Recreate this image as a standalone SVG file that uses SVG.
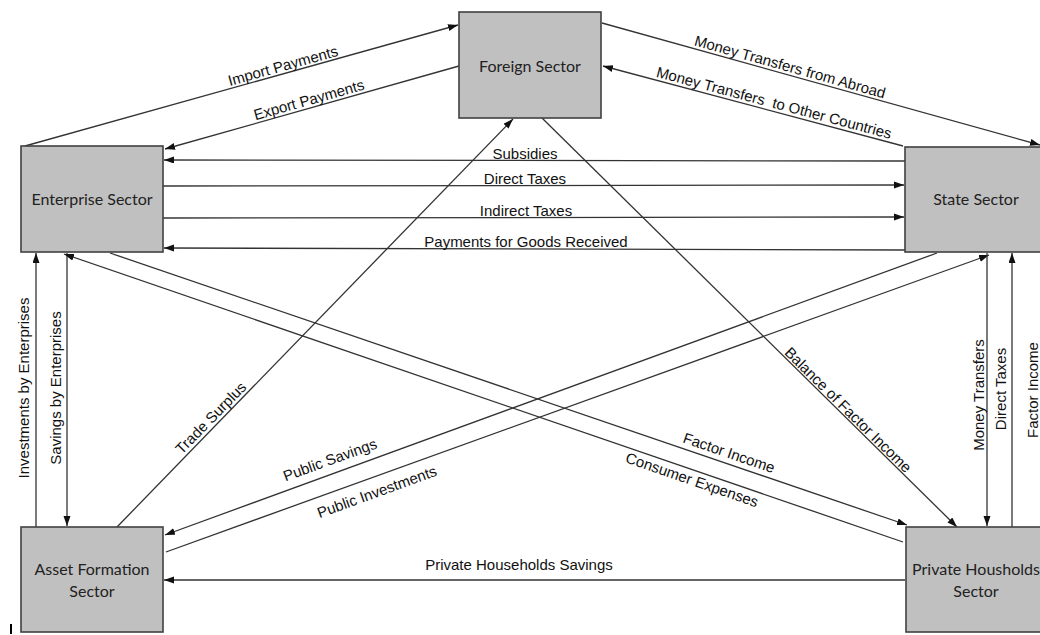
<svg xmlns="http://www.w3.org/2000/svg" width="1040" height="635" viewBox="0 0 1040 635">
<style>
.box{fill:#c0c0c0;stroke:#404040;stroke-width:1.6}
.nl{font-family:Lato,"Liberation Sans",sans-serif;font-size:16px;fill:#222;text-anchor:middle}
.ln{stroke:#333;stroke-width:1.3;fill:none}
.ar{marker-end:url(#ah)}
.el{font-family:"Liberation Sans",Arial,sans-serif;font-size:15px;fill:#111;text-anchor:middle}
</style>
<defs>
<marker id="ah" markerUnits="userSpaceOnUse" markerWidth="11" markerHeight="8" refX="10" refY="3.5" orient="auto">
<path d="M0,0 L10,3.5 L0,7 z" fill="#111"/>
</marker>
</defs>
<rect width="1040" height="635" fill="#fff"/>

<g id="connectors">
<line class="ln ar" x1="25" y1="146" x2="458" y2="25"/>
<line class="ln ar" x1="459" y1="66" x2="165" y2="149"/>
<line class="ln ar" x1="602" y1="23" x2="1040" y2="145"/>
<line class="ln ar" x1="903" y1="146" x2="603" y2="66"/>
<line class="ln ar" x1="905" y1="161" x2="164" y2="160"/>
<line class="ln ar" x1="163" y1="186" x2="904" y2="185"/>
<line class="ln ar" x1="163" y1="218" x2="904" y2="217"/>
<line class="ln ar" x1="905" y1="250" x2="164" y2="248"/>
<line class="ln ar" x1="36" y1="527" x2="36" y2="253"/>
<line class="ln ar" x1="67" y1="253" x2="67" y2="526"/>
<line class="ln ar" x1="117" y1="527" x2="513" y2="119"/>
<line class="ln ar" x1="542" y1="118" x2="957" y2="527"/>
<line class="ln ar" x1="937" y1="253" x2="165" y2="535"/>
<line class="ln ar" x1="166" y1="552" x2="989" y2="255"/>
<line class="ln ar" x1="987" y1="253" x2="987" y2="526"/>
<line class="ln ar" x1="1012" y1="527" x2="1012" y2="253"/>
<line class="ln ar" x1="110" y1="253" x2="907" y2="525"/>
<line class="ln ar" x1="903" y1="542" x2="64" y2="254"/>
<line class="ln ar" x1="905" y1="580" x2="164" y2="580"/>

<text class="el" transform="translate(283,66) rotate(-15.6)" y="5">Import Payments</text>
<text class="el" transform="translate(309,100) rotate(-15.8)" y="5">Export Payments</text>
<text class="el" transform="translate(790,67) rotate(15.6)" y="5">Money Transfers from Abroad</text>
<text class="el" transform="translate(774,103) rotate(14.9)" y="5" xml:space="preserve">Money Transfers  to Other Countries</text>
<text class="el" x="525" y="159">Subsidies</text>
<text class="el" x="525" y="184">Direct Taxes</text>
<text class="el" x="526" y="216">Indirect Taxes</text>
<text class="el" x="526" y="247">Payments for Goods Received</text>
<text class="el" transform="translate(24,388) rotate(-90)" y="5">Investments by Enterprises</text>
<text class="el" transform="translate(56,388) rotate(-90)" y="5">Savings by Enterprises</text>
<text class="el" transform="translate(211,418) rotate(-45.6)" y="5">Trade Surplus</text>
<text class="el" transform="translate(848,410) rotate(44.6)" y="5">Balance of Factor Income</text>
<text class="el" transform="translate(330,460) rotate(-20)" y="5">Public Savings</text>
<text class="el" transform="translate(377,492) rotate(-20)" y="5">Public Investments</text>
<text class="el" transform="translate(729,453) rotate(18.9)" y="5">Factor Income</text>
<text class="el" transform="translate(692,480) rotate(19)" y="5">Consumer Expenses</text>
<text class="el" transform="translate(979,395) rotate(-90)" y="5">Money Transfers</text>
<text class="el" transform="translate(1001,389) rotate(-90)" y="5">Direct Taxes</text>
<text class="el" transform="translate(1033,390) rotate(-90)" y="5">Factor Income</text>
<text class="el" x="519" y="570">Private Households Savings</text>
</g>

<g id="foreign"><rect class="box" x="459" y="12" width="142" height="106"/><text class="nl" x="530" y="72">Foreign Sector</text></g>
<g id="enterprise"><rect class="box" x="21" y="146" width="142" height="106"/><text class="nl" x="92" y="205">Enterprise Sector</text></g>
<g id="state"><rect class="box" x="905" y="147" width="142" height="105"/><text class="nl" x="976" y="205">State Sector</text></g>
<g id="asset"><rect class="box" x="21" y="527" width="142" height="105"/><text class="nl" x="92" y="575">Asset Formation</text><text class="nl" x="92" y="597">Sector</text></g>
<g id="private"><rect class="box" x="906" y="527" width="142" height="105"/><text class="nl" x="976" y="575">Private Housholds</text><text class="nl" x="976" y="597">Sector</text></g>
<rect x="10" y="624" width="2" height="10" fill="#000"/>
</svg>
